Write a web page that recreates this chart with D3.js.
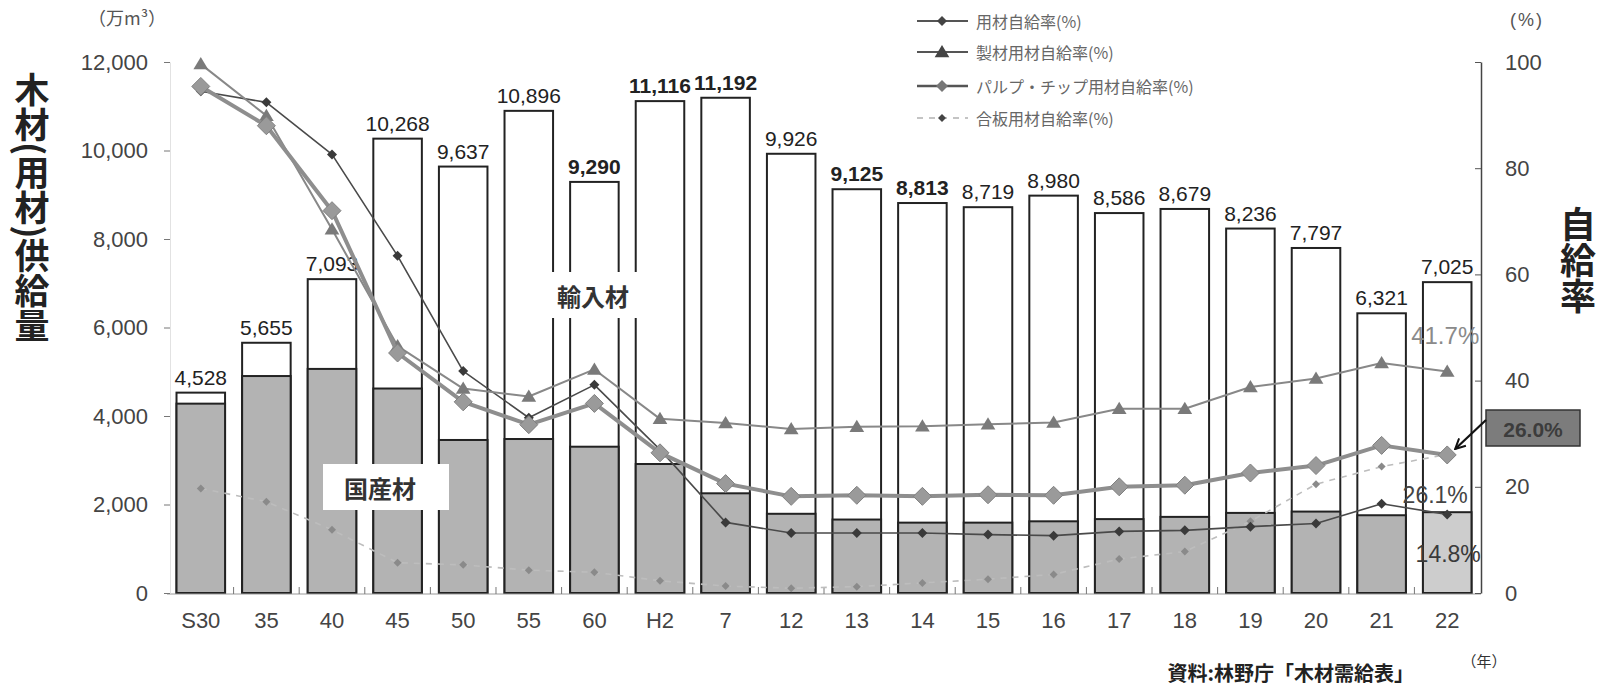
<!DOCTYPE html>
<html lang="ja">
<head>
<meta charset="utf-8">
<script src="https://cdn.jsdelivr.net/npm/d3@7"></script>
<style>
  html, body { margin: 0; padding: 0; background: #fff; }
  #wrap { position: relative; width: 1600px; height: 686px; }
  svg { display: block; }
  .num { font-family: "Liberation Sans", Arial, sans-serif; }
  .jp { font-family: "Noto Sans CJK JP", "Noto Sans", sans-serif; }
  .vchar {
    position: absolute; line-height: 1; text-align: center;
    font-weight: bold; color: #222; margin: 0; white-space: nowrap;
  }
</style>
</head>
<body>
<div id="wrap">
<svg id="chart" width="1600" height="686"></svg>
</div>
<script>
// 木材（用材）供給量（万m³）と自給率（%）の推移
const categories = ["S30","35","40","45","50","55","60","H2","7","12","13","14","15","16","17","18","19","20","21","22"];
const totalSupply = [4528,5655,7093,10268,9637,10896,9290,11116,11192,9926,9125,8813,8719,8980,8586,8679,8236,7797,6321,7025];
const domesticSupply = [4279,4903,5064,4621,3458,3480,3306,2915,2253,1790,1660,1590,1590,1620,1670,1720,1810,1840,1757,1826];

// 自給率（%）
const rateTimber = [94.5,92.4,82.6,63.5,41.8,33.0,39.2,27.0,13.3,11.3,11.3,11.3,11.0,10.8,11.6,11.8,12.5,13.1,16.8,14.8];
const rateSawn = [99.6,89.9,68.5,46.5,38.5,37.0,42.1,32.8,32.0,30.9,31.3,31.4,31.8,32.1,34.7,34.7,38.8,40.4,43.3,41.7];
const ratePulp = [95.4,88.0,72.0,45.2,36.0,31.7,35.7,26.4,20.6,18.2,18.4,18.2,18.5,18.4,20.0,20.3,22.6,24.0,27.8,26.0];
const ratePlywood = [19.7,17.2,11.9,5.7,5.3,4.3,3.9,2.3,1.3,0.9,1.2,1.9,2.6,3.5,6.4,7.8,13.5,20.5,23.8,26.1];

const leftTicks = [0,2000,4000,6000,8000,10000,12000];
const rightTicks = [0,20,40,60,80,100];
const seriesNames = ["用材自給率(%)","製材用材自給率(%)","パルプ・チップ用材自給率(%)","合板用材自給率(%)"];

const boldValueLabels = new Set(["60","H2","7","13","14"]);

const svg = d3.select("#chart");
const plotTop = 62, plotBottom = 593, plotLeft = 167, plotRight = 1481;

const x = d3.scaleBand().domain(categories).range([plotLeft, plotRight])
  .paddingInner(0.26).paddingOuter(0.145);
const bw = x.bandwidth();
const cx = c => x(c) + bw / 2;
const yL = d3.scaleLinear().domain([0, 12000]).range([plotBottom, plotTop]);
const yR = d3.scaleLinear().domain([0, 100]).range([plotBottom, plotTop]);

// ---- bars ----
const barData = categories.map((c, i) => ({ c, total: totalSupply[i], dom: domesticSupply[i], i }));
const bars = svg.append("g");
bars.selectAll("rect.total").data(barData).join("rect")
  .attr("x", d => x(d.c)).attr("width", bw)
  .attr("y", d => yL(d.total)).attr("height", d => yL(0) - yL(d.total))
  .attr("fill", "#fff").attr("stroke", "#222").attr("stroke-width", 2);
bars.selectAll("rect.dom").data(barData).join("rect")
  .attr("x", d => x(d.c)).attr("width", bw)
  .attr("y", d => yL(d.dom)).attr("height", d => yL(0) - yL(d.dom))
  .attr("fill", d => d.i === categories.length - 1 ? "#cdcdcd" : "#b3b3b3")
  .attr("stroke", "#222").attr("stroke-width", 2);

// value labels
svg.append("g").selectAll("text").data(barData).join("text")
  .attr("class", "num")
  .attr("x", d => cx(d.c)).attr("y", d => yL(d.total) - 8)
  .attr("text-anchor", "middle")
  .attr("font-size", 21)
  .attr("font-weight", d => boldValueLabels.has(d.c) ? "bold" : "normal")
  .attr("fill", "#222")
  .text(d => d3.format(",")(d.total));

// baseline and small ticks between bars
svg.append("line").attr("x1", plotLeft).attr("x2", plotRight)
  .attr("y1", plotBottom + 1).attr("y2", plotBottom + 1)
  .attr("stroke", "#999").attr("stroke-width", 1.2);
const gapHalf = (x.step() - bw) / 2;
svg.append("g").selectAll("line").data(categories.slice(1)).join("line")
  .attr("x1", d => x(d) - gapHalf).attr("x2", d => x(d) - gapHalf)
  .attr("y1", plotBottom - 6).attr("y2", plotBottom + 1)
  .attr("stroke", "#777").attr("stroke-width", 1);

// ---- axes ----
const axL = svg.append("g").attr("transform", `translate(${plotLeft + 3},0)`)
  .call(d3.axisLeft(yL).tickValues(leftTicks).tickFormat(d3.format(",")).tickSizeInner(6).tickSizeOuter(0).tickPadding(16));
axL.select(".domain").attr("stroke", "#e2e2e2");
axL.selectAll(".tick line").attr("stroke", "#777");
axL.selectAll(".tick text").attr("class", "num").attr("font-size", 22).attr("fill", "#444");

const axR = svg.append("g").attr("transform", `translate(${plotRight},0)`)
  .call(d3.axisRight(yR).tickValues(rightTicks).tickSizeInner(-6).tickSizeOuter(0).tickPadding(24));
axR.select(".domain").attr("stroke", "#444").attr("stroke-width", 1.5);
axR.selectAll(".tick line").attr("stroke", "#555");
axR.selectAll(".tick text").attr("class", "num").attr("font-size", 22).attr("fill", "#444");

const axB = svg.append("g").attr("transform", `translate(0,${plotBottom})`)
  .call(d3.axisBottom(x).tickSize(0).tickPadding(19));
axB.select(".domain").remove();
axB.selectAll(".tick text").attr("class", "num").attr("font-size", 22).attr("fill", "#444");

// ---- rate lines ----
const diamond = s => `M0,${-s}L${s},0L0,${s}L${-s},0Z`;
const triangle = s => `M0,${-s}L${s * 1.05},${s * 0.75}L${-s * 1.05},${s * 0.75}Z`;

const lineSeries = [
  { values: ratePlywood, stroke: "#bdbdbd", width: 1.6, dash: "6,6", marker: diamond(4), mfill: "#8a8a8a", mstroke: "none" },
  { values: rateTimber, stroke: "#4a4a4a", width: 1.6, dash: null, marker: diamond(5), mfill: "#3a3a3a", mstroke: "none" },
  { values: rateSawn, stroke: "#888", width: 2, dash: null, marker: triangle(7), mfill: "#7a7a7a", mstroke: "none" },
  { values: ratePulp, stroke: "#8e8e8e", width: 4, dash: null, marker: diamond(9), mfill: "#9a9a9a", mstroke: "#808080" }
];
const line = d3.line().x((d, i) => cx(categories[i])).y(d => yR(d));
lineSeries.forEach(s => {
  svg.append("path").datum(s.values).attr("d", line)
    .attr("fill", "none").attr("stroke", s.stroke).attr("stroke-width", s.width)
    .attr("stroke-dasharray", s.dash).attr("stroke-linejoin", "round");
  svg.append("g").selectAll("path").data(s.values).join("path")
    .attr("d", s.marker)
    .attr("transform", (d, i) => `translate(${cx(categories[i])},${yR(d)})`)
    .attr("fill", s.mfill).attr("stroke", s.mstroke).attr("stroke-width", 1);
});

// ---- category labels with white boxes ----
function boxedLabel(text, bx, by, bwid, bht, tx, ty) {
  svg.append("rect").attr("x", bx).attr("y", by).attr("width", bwid).attr("height", bht).attr("fill", "#fff");
  svg.append("text").attr("class", "jp").attr("x", tx).attr("y", ty)
    .attr("text-anchor", "middle").attr("dominant-baseline", "central")
    .attr("font-size", 24).attr("font-weight", "bold").attr("fill", "#333").text(text);
}
boxedLabel("輸入材", 544, 272, 114, 46, 593, 295);
boxedLabel("国産材", 323, 464, 126, 46, 380, 487);

// ---- end-of-series annotations ----
const last = categories.length - 1;
const lastX = cx(categories[last]);
svg.append("text").attr("class", "num").attr("x", lastX - 2).attr("y", yR(rateSawn[last]) - 36)
  .attr("text-anchor", "middle").attr("dominant-baseline", "central")
  .attr("font-size", 24).attr("fill", "#8a8a8a")
  .text(rateSawn[last].toFixed(1) + "%");
svg.append("text").attr("class", "num").attr("x", lastX - 12).attr("y", yR(ratePlywood[last]) + 49)
  .attr("text-anchor", "middle").attr("font-size", 23).attr("fill", "#444")
  .text(ratePlywood[last].toFixed(1) + "%");
svg.append("text").attr("class", "num").attr("x", lastX + 1).attr("y", yR(rateTimber[last]) + 48)
  .attr("text-anchor", "middle").attr("font-size", 23).attr("fill", "#3a3a3a")
  .text(rateTimber[last].toFixed(1) + "%");

// callout for the thick line's latest value
const calloutX = 1486, calloutY = 410;
svg.append("rect").attr("x", calloutX).attr("y", calloutY).attr("width", 94).attr("height", 36)
  .attr("fill", "#7c7c7c").attr("stroke", "#333").attr("stroke-width", 1.5);
svg.append("text").attr("class", "num").attr("x", calloutX + 47).attr("y", calloutY + 19)
  .attr("text-anchor", "middle").attr("dominant-baseline", "central")
  .attr("font-size", 21).attr("font-weight", "bold").style("fill", "#3c3c3c")
  .text(ratePulp[last].toFixed(1) + "%");
svg.append("defs").append("marker").attr("id", "arrowHead")
  .attr("viewBox", "0 0 12 12").attr("refX", 11).attr("refY", 6)
  .attr("markerWidth", 12).attr("markerHeight", 12).attr("markerUnits", "userSpaceOnUse")
  .attr("orient", "auto")
  .append("path").attr("d", "M1,1L11,6L1,11").attr("fill", "none").attr("stroke", "#111").attr("stroke-width", 2);
svg.append("line").attr("x1", calloutX).attr("y1", calloutY + 10)
  .attr("x2", lastX + 8).attr("y2", yR(ratePulp[last]) - 6)
  .attr("stroke", "#111").attr("stroke-width", 2.2).attr("marker-end", "url(#arrowHead)");

// ---- legend ----
const legendY = [21, 52, 86, 118];
const legendStyles = [lineSeries[1], lineSeries[2], { ...lineSeries[3], marker: diamond(6) }, lineSeries[0]];
const lg = svg.append("g");
seriesNames.forEach((name, i) => {
  const st = legendStyles[i];
  lg.append("line").attr("x1", 917).attr("x2", 968).attr("y1", legendY[i]).attr("y2", legendY[i])
    .attr("stroke", i === 3 ? "#c4c4c4" : "#555").attr("stroke-width", i === 2 ? 2.5 : 2)
    .attr("stroke-dasharray", st.dash);
  lg.append("path").attr("d", st.marker).attr("transform", `translate(942,${legendY[i]})`)
    .attr("fill", i === 2 ? "#777" : "#444");
  lg.append("text").attr("class", "jp").attr("x", 976).attr("y", legendY[i])
    .attr("dominant-baseline", "central").attr("font-size", 16).attr("fill", "#666").text(name);
});

// ---- titles and notes ----
svg.append("text").attr("class", "jp").attr("x", 88).attr("y", 25)
  .attr("font-size", 18).attr("fill", "#555").text("（万m³）");
svg.append("text").attr("class", "num").attr("x", 1527).attr("y", 26)
  .attr("text-anchor", "middle").attr("font-size", 18).attr("letter-spacing", 2).attr("fill", "#555").text("(%)");

// left axis title, set vertically
svg.append("text").attr("class", "jp").attr("x", 32).attr("y", 72)
  .style("writing-mode", "vertical-rl")
  .attr("font-size", 35).attr("font-weight", "bold").attr("fill", "#222").text("木材(用材)供給量");

// right axis title: one glyph block per line, stacked
d3.select("#wrap").selectAll("div.vchar").data(Array.from("自給率")).join("div")
  .attr("class", "vchar jp")
  .style("left", "1560px").style("width", "36px")
  .style("top", (d, i) => `${204 + i * 36}px`)
  .style("font-size", "36px").style("height", "36px")
  .text(d => d);

svg.append("text").attr("class", "jp").attr("x", 1414).attr("y", 681)
  .attr("text-anchor", "end").attr("font-size", 20).attr("font-weight", "bold").attr("fill", "#222")
  .text("資料:林野庁「木材需給表」");
svg.append("text").attr("class", "jp").attr("x", 1484).attr("y", 667)
  .attr("text-anchor", "middle").attr("font-size", 15).attr("fill", "#333").text("（年）");
</script>
</body>
</html>
